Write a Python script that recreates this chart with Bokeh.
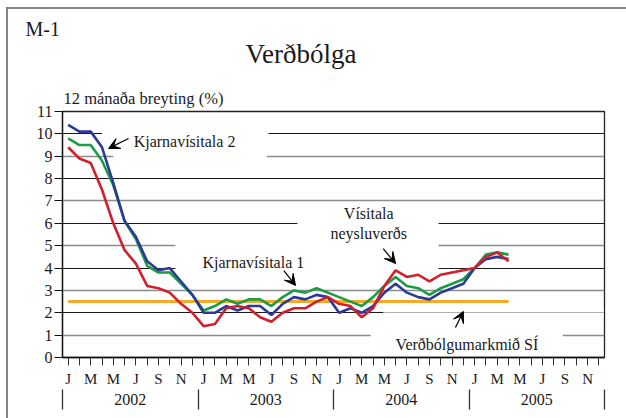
from bokeh.plotting import figure
from bokeh.layouts import column
from bokeh.models import Range1d, LinearAxis, FixedTicker, Grid, Label, Arrow, VeeHead, Title
from bokeh.embed import file_html
from bokeh.resources import INLINE

# ---------------- data ----------------
years = ["2002", "2003", "2004", "2005"]
month_letters = ["J", "F", "M", "A", "M", "J", "J", "A", "S", "O", "N", "D"]

# Vísitala neysluverðs (red), Jan 2002 - Apr 2005
cpi = [9.4, 8.9, 8.7, 7.5, 6.0, 4.8, 4.2, 3.2, 3.1, 2.9, 2.4, 2.0,
       1.4, 1.5, 2.2, 2.3, 2.2, 1.8, 1.6, 2.0, 2.2, 2.2, 2.5, 2.7,
       2.4, 2.3, 1.8, 2.2, 3.2, 3.9, 3.6, 3.7, 3.4, 3.7, 3.8, 3.9,
       4.0, 4.5, 4.7, 4.3]
# Kjarnavísitala 1 (green)
core1 = [9.8, 9.5, 9.5, 8.8, 7.7, 6.1, 5.3, 4.1, 3.8, 3.8, 3.3, 2.8,
         2.1, 2.3, 2.6, 2.4, 2.6, 2.6, 2.3, 2.7, 3.0, 2.9, 3.1, 2.9,
         2.7, 2.5, 2.3, 2.7, 3.2, 3.6, 3.2, 3.1, 2.8, 3.1, 3.3, 3.5,
         4.0, 4.6, 4.7, 4.6]
# Kjarnavísitala 2 (blue)
core2 = [10.4, 10.1, 10.1, 9.4, 7.8, 6.1, 5.4, 4.3, 3.9, 4.0, 3.4, 2.8,
         2.0, 2.0, 2.3, 2.1, 2.3, 2.3, 1.9, 2.4, 2.7, 2.6, 2.8, 2.7,
         2.0, 2.2, 2.0, 2.3, 2.9, 3.3, 2.9, 2.7, 2.6, 2.9, 3.1, 3.3,
         4.0, 4.4, 4.5, 4.4]
# Verðbólgumarkmið SÍ
target = 2.5

n_months = len(years) * 12
x_obs = list(range(len(cpi)))

FONT = "Liberation Serif"
TXT = "#1a1a1a"
W = 626
H1 = 41   # strip holding the chart number
H2 = 31   # strip holding the title
BL, BR = 62, 22
SHADOW_TOP = "inset 6px 7px 0 0 white, inset 8px 9px 0 0 #858585"
SHADOW_LEFT = "inset 6px 0 0 0 white, inset 8px 0 0 0 #858585"


def strip(height, text, size, offset, standoff, shadow):
    f = figure(width=W, height=height, output_backend="svg", toolbar_location=None,
               x_range=Range1d(0, 1), y_range=Range1d(0, 1),
               x_axis_type=None, y_axis_type=None,
               min_border_left=BL, min_border_right=BR,
               min_border_top=height - 2, min_border_bottom=0,
               outline_line_color=None, background_fill_color=None, border_fill_color=None)
    f.styles = {"background-color": "white", "box-shadow": shadow}
    f.add_layout(Title(text=text, align="left", offset=offset, standoff=standoff,
                       text_font=FONT, text_font_size=size, text_font_style="normal",
                       text_color=TXT), "above")
    return f


head1 = strip(H1, "M-1", "20px", -37, 0, SHADOW_TOP)
head2 = strip(H2, "Verðbólga", "27px", 183, 7, SHADOW_LEFT)

# ---------- main chart ----------
TOP = H1 + H2
p = figure(width=W, height=418 - TOP, output_backend="svg", toolbar_location=None,
           x_range=Range1d(-0.5, n_months - 0.5), y_range=Range1d(0, 11),
           x_axis_type=None, y_axis_type=None,
           min_border_left=BL, min_border_right=BR, min_border_top=111 - TOP,
           min_border_bottom=61,
           background_fill_color="white", border_fill_color=None,
           outline_line_color="#222222", outline_line_width=1.3)
p.styles = {"background-color": "white", "box-shadow": SHADOW_LEFT}

p.add_layout(Title(text="12 mánaða breyting (%)", align="left", offset=1, standoff=8,
                   text_font=FONT, text_font_size="16.5px", text_font_style="normal",
                   text_color=TXT), "above")

# y axis
yax = LinearAxis(ticker=FixedTicker(ticks=list(range(12))),
                 major_tick_out=8, major_tick_in=0, minor_tick_line_color=None,
                 major_label_standoff=2, axis_line_color="#111111", axis_line_width=1.3,
                 major_tick_line_color="#111111",
                 major_label_text_font=FONT, major_label_text_font_size="16px",
                 major_label_text_color=TXT)
p.add_layout(yax, "left")

# month axis
overrides = {i: (month_letters[i % 12] if i % 2 == 0 else "") for i in range(n_months)}
xax = LinearAxis(ticker=FixedTicker(ticks=list(range(n_months))),
                 major_label_overrides=overrides,
                 major_tick_out=8, major_tick_in=0, minor_tick_line_color=None,
                 major_label_standoff=5, axis_line_color="#111111", axis_line_width=1.3,
                 major_tick_line_color="#333333",
                 major_label_text_font=FONT, major_label_text_font_size="15px",
                 major_label_text_color=TXT)
p.add_layout(xax, "below")

# year axis (group labels with separators)
centers = [i * 12 + 5.5 for i in range(len(years))]
bounds = [i * 12 - 0.5 for i in range(len(years) + 1)]
bounds[0] += 0.01
bounds[-1] -= 0.01
yr = LinearAxis(ticker=FixedTicker(ticks=centers, minor_ticks=bounds),
                major_label_overrides={c: y for c, y in zip(centers, years)},
                axis_line_color=None, major_tick_line_color=None,
                major_tick_out=0, major_tick_in=0,
                minor_tick_out=20, minor_tick_in=0,
                minor_tick_line_color="#333333", minor_tick_line_width=1.3,
                major_label_standoff=-16,
                major_label_text_font=FONT, major_label_text_font_size="16px",
                major_label_text_color=TXT)
p.add_layout(yr, "below")

# horizontal grid lines (even dark, odd grey)
p.add_layout(Grid(dimension=1, ticker=FixedTicker(ticks=[2, 4, 6, 8, 10]),
                  grid_line_color="#1a1a1a", grid_line_width=1.2))
p.add_layout(Grid(dimension=1, ticker=FixedTicker(ticks=[1, 3, 5, 7, 9]),
                  grid_line_color="#8c8c8c", grid_line_width=1.6))

# white boxes behind annotation texts (hide gridlines)
p.quad(left=[3.0, 4.0, 9.5, 20.3, 26.8], right=[17.75, 17.6, 32.8, 32.8, 43.8],
       bottom=[9.75, 8.75, 3.75, 5.75, 0.75], top=[10.25, 9.25, 5.25, 6.25, 1.25],
       fill_color="white", line_color=None)
p.quad(left=[27.9], right=[47.45], bottom=[1.85], top=[2.15],
       fill_color="white", fill_alpha=0.65, line_color=None)

# series
p.line(x_obs, [target] * len(x_obs), line_color="#F7AA2A", line_width=3)
p.line(x_obs, core1, line_color="#1F9B48", line_width=2.6)
p.line(x_obs, core2, line_color="#2B3A98", line_width=2.6)
p.line(x_obs, cpi, line_color="#D0202E", line_width=2.6)

def lab(x, y, text, align="left"):
    p.add_layout(Label(x=x, y=y, text=text, text_font=FONT, text_font_size="16px",
                       text_font_style="normal", text_color=TXT, text_align=align,
                       text_baseline="alphabetic"))

def arr(x0, y0, x1, y1):
    p.add_layout(Arrow(x_start=x0, y_start=y0, x_end=x1, y_end=y1,
                       line_color="black", line_width=1.2,
                       end=VeeHead(size=11, fill_color="black", line_color="black")))

lab(5.8, 9.66, "Kjarnavísitala 2")
arr(5.35, 9.79, 3.58, 9.35)
lab(11.9, 4.26, "Kjarnavísitala 1")
arr(19.1, 3.89, 20.14, 3.22)
lab(26.62, 6.42, "Vísitala", align="center")
lab(26.62, 5.53, "neysluverðs", align="center")
arr(27.9, 4.87, 29.0, 4.2)
lab(29.0, 0.58, "Verðbólgumarkmið SÍ")
arr(34.3, 1.34, 35.0, 2.06)

open("out.html", "w").write(file_html(column(head1, head2, p, spacing=0), INLINE))
